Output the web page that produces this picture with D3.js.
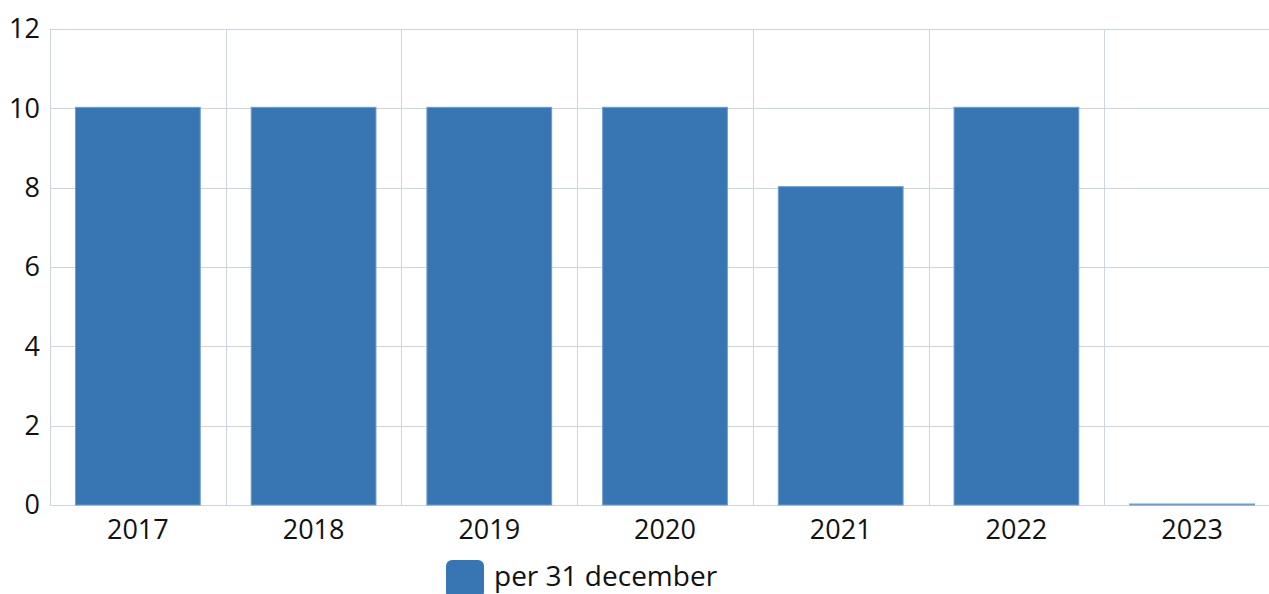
<!DOCTYPE html>
<html lang="en">
<head>
    <meta charset="UTF-8">
    <title>per 31 december</title>
    <script src="https://d3js.org/d3.v7.min.js"></script>
    <style>
        body { margin: 0; background: #fff; overflow: hidden; }
        svg { display: block; font-family: "Open Sans", sans-serif; }
    </style>
</head>
<body>
    <div id="chart"></div>
    <script>
        // Data
        const years = ["2017", "2018", "2019", "2020", "2021", "2022", "2023"];
        const values = [10, 10, 10, 10, 8, 10, 0];
        const yTicks = [0, 2, 4, 6, 8, 10, 12];
        const seriesName = "per 31 december";

        const width = 1269;
        const height = 594;
        const margin = { top: 29, left: 50, bottom: 89 };
        const plotRight = 1280; // plot runs past the window edge
        const barColor = "#3776b3";
        const gridColor = "#ccd5e0";

        const svg = d3.select("#chart")
            .append("svg")
            .attr("width", width)
            .attr("height", height);

        const x = d3.scaleBand()
            .domain(years)
            .range([margin.left, plotRight])
            .padding(0);

        const y = d3.scaleLinear()
            .domain([0, 12])
            .range([height - margin.bottom, margin.top]);

        // horizontal grid
        svg.append("g")
            .selectAll("line")
            .data(yTicks)
            .enter()
            .append("line")
            .attr("x1", margin.left)
            .attr("x2", plotRight)
            .attr("y1", d => Math.round(y(d)) + 0.5)
            .attr("y2", d => Math.round(y(d)) + 0.5)
            .attr("stroke", gridColor)
            .attr("stroke-width", 1);

        // vertical grid at band edges
        const edges = years.map(d => x(d)).concat([plotRight]);
        svg.append("g")
            .selectAll("line")
            .data(edges)
            .enter()
            .append("line")
            .attr("x1", d => Math.round(d) + 0.5)
            .attr("x2", d => Math.round(d) + 0.5)
            .attr("y1", y(12))
            .attr("y2", y(0))
            .attr("stroke", gridColor)
            .attr("stroke-width", 1);

        // y tick labels
        svg.append("g")
            .selectAll("text")
            .data(yTicks)
            .enter()
            .append("text")
            .attr("x", 40)
            .attr("y", d => y(d))
            .attr("dy", "0.35em")
            .attr("text-anchor", "end")
            .attr("fill", "#111")
            .style("font-size", "27px")
            .text(d => d);

        // bars
        const inset = x.bandwidth() * 0.145;
        svg.append("g")
            .selectAll("rect")
            .data(years.map((d, i) => ({ year: d, value: values[i] })))
            .enter()
            .append("rect")
            .attr("x", d => x(d.year) + inset)
            .attr("width", x.bandwidth() - 2 * inset)
            .attr("y", d => y(d.value) - 1)
            .attr("height", d => y(0) - y(d.value) + 1)
            .attr("fill", barColor)
            .attr("stroke", "#6f9bcf")
            .attr("stroke-width", 1);

        // x labels
        svg.append("g")
            .selectAll("text")
            .data(years)
            .enter()
            .append("text")
            .attr("x", d => x(d) + x.bandwidth() / 2)
            .attr("y", 539)
            .attr("text-anchor", "middle")
            .attr("fill", "#111")
            .style("font-size", "27px")
            .text(d => d);

        // legend
        const legend = svg.append("g")
            .attr("transform", "translate(446, 560)");
        legend.append("rect")
            .attr("width", 38)
            .attr("height", 38)
            .attr("rx", 6)
            .attr("fill", barColor);
        legend.append("text")
            .attr("x", 48)
            .attr("y", 26)
            .attr("fill", "#111")
            .style("font-size", "28px")
            .text(seriesName);
    </script>
</body>
</html>
